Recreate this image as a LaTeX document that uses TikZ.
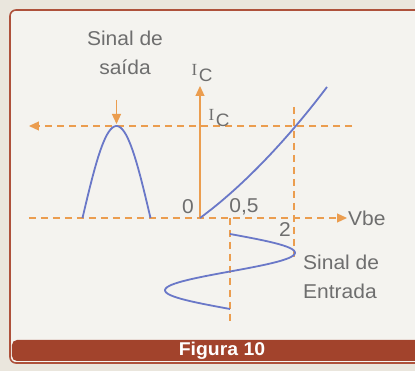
\documentclass[tikz,border=0pt]{standalone}
\usepackage{fontspec}
\setmainfont{Liberation Sans}[FakeStretch=1.05]
\newfontfamily\serifletter{Liberation Serif}
\usetikzlibrary{arrows.meta}
\definecolor{axisorange}{HTML}{EB9D4F}
\definecolor{curveblue}{HTML}{6A78C8}
\definecolor{labelgray}{HTML}{6E6E6E}
\definecolor{framered}{HTML}{AE513B}
\definecolor{barred}{HTML}{A2432C}
\definecolor{pagebg}{HTML}{EAE6DD}
\definecolor{boxbg}{HTML}{F4F3EF}
\newcommand{\iclabel}{{\serifletter\fontsize{17}{17}\selectfont I}\kern1.5pt\raisebox{-6pt}{\fontsize{18}{18}\selectfont C}}
\tikzset{
  axisline/.style={axisorange, line width=1.2pt},
  guide/.style={axisorange, line width=1.2pt, dash pattern=on 7pt off 5pt},
  signal/.style={curveblue, line width=1.8pt},
  tip/.style={-{Triangle[length=10pt,width=9pt]}},
  lbl/.style={labelgray, font=\fontsize{20}{20}\selectfont, inner sep=0pt}
}
\begin{document}
\begin{tikzpicture}[x=10pt, y=10pt]
\useasboundingbox[fill=pagebg] (-20,-15.3) rectangle (21.5,21.8);
\draw[framered, line width=1.6pt, fill=boxbg, rounded corners=6pt] (-19,20.8) rectangle (23,-14.5);
\fill[barred, rounded corners=5pt] (-18.8,-12.2) rectangle (23,-14.3);
\node[white, inner sep=0pt, font=\bfseries\fontsize{18.5}{18.5}\selectfont] (figura) at (2.2,-13.25) {Figura 10};
% axes and guide lines
\draw[guide, tip] (-17.1,0) -- (14.7,0);
\draw[guide, tip] (15.2,9.2) -- (-17.1,9.2);
\draw[axisline, tip] (0,0) -- (0,13.2);
\draw[guide] (9.4,11.1) -- (9.4,-3.9);
\draw[guide] (3.0,0) -- (3.0,-10.4);
% curves
\draw[signal] (0,0) .. controls (4.5,3.3) and (9,8.2) .. (12.7,13.1);
\draw[signal, domain=-90:90, samples=40] plot ({-8.35+3.4*\x/90}, {9.2*cos(\x)});
\draw[signal, domain=0:360, samples=60] plot ({3.0+6.5*sin(\x)}, {-1.6-7.5*\x/360});
% labels
\node[lbl] (saidatop) at (-7.5,18.0) {Sinal de};
\node[lbl] (saida) at (-7.5,15.1) {saída};
\coordinate (drop) at (-8.35,11.8);
\coordinate (peak) at (-8.35,9.4);
\draw[axisline, tip] (drop) -- (peak);
\node[lbl] (ictop) at (0.2,14.5) {\iclabel};
\node[lbl] (icmid) at (1.9,10.0) {\iclabel};
\node[lbl] (zero) at (-1.2,1.1) {0};
\node[lbl] (half) at (4.4,1.1) {0,5};
\node[lbl] (two) at (8.5,-1.2) {2};
\node[lbl, anchor=west] (vbe) at (14.8,0) {Vbe};
\node[lbl, anchor=west] (entradatop) at (10.3,-4.4) {Sinal de};
\node[lbl, anchor=west] (entrada) at (10.3,-7.3) {Entrada};
\end{tikzpicture}
\end{document}
